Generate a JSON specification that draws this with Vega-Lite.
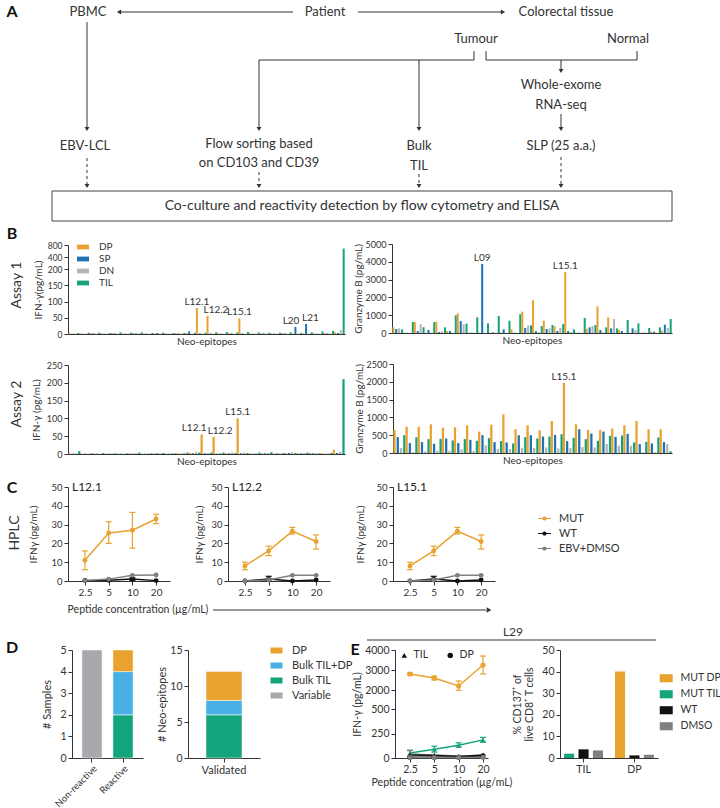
{
"$schema": "https://vega.github.io/schema/vega-lite/v6.json",
"padding": 0,
"background": "white",
"spacing": 0,
"config": {
 "font": "Lato",
 "view": {"stroke": null},
 "axis": {"grid": false, "labelOverlap": false, "labelFont": "Lato", "titleFont": "Lato", "labelFontSize": 9.5, "titleFontSize": 10, "titleFontWeight": "normal", "labelColor": "#333", "titleColor": "#333", "domainColor": "#333", "tickColor": "#333", "tickSize": 4, "labelPadding": 2, "titlePadding": 4},
 "axisQuantitative": {"tickCount": 50},
 "legend": {"labelFont": "Lato", "labelColor": "#333", "padding": 0, "labelFontSize": 10},
 "title": {"font": "Lato", "fontWeight": "normal", "color": "#333"},
 "text": {"font": "Lato", "color": "#333"}
},
"datasets": {
 "aText": [
  {"x":88,"y":12,"t":"PBMC"},{"x":325,"y":12,"t":"Patient"},{"x":566,"y":12,"t":"Colorectal tissue"},
  {"x":476,"y":39,"t":"Tumour"},{"x":628,"y":39,"t":"Normal"},
  {"x":561,"y":85,"t":"Whole-exome"},{"x":561,"y":105,"t":"RNA-seq"},
  {"x":85,"y":146,"t":"EBV-LCL"},{"x":259,"y":144,"t":"Flow sorting based"},{"x":259,"y":163,"t":"on CD103 and CD39"},
  {"x":419,"y":146,"t":"Bulk"},{"x":419,"y":166,"t":"TIL"},{"x":561,"y":146,"t":"SLP (25 a.a.)"}
 ],
 "aBoxText": [{"x":362,"y":206,"t":"Co-culture and reactivity detection by flow cytometry and ELISA"}],
 "aLetter": [{"x":12,"y":12,"t":"A"}],
 "aLines": [
  {"x":293,"y":12,"x2":121,"y2":12},{"x":358,"y":12,"x2":501,"y2":12},
  {"x":87,"y":22,"x2":87,"y2":127},
  {"x":474,"y":51,"x2":474,"y2":60},{"x":259,"y":60,"x2":474,"y2":60},
  {"x":259,"y":60,"x2":259,"y2":127},{"x":419,"y":60,"x2":419,"y2":127},
  {"x":486,"y":51,"x2":486,"y2":60},{"x":486,"y":60,"x2":637,"y2":60},{"x":637,"y":51,"x2":637,"y2":60},
  {"x":561,"y":60,"x2":561,"y2":69},{"x":561,"y":114,"x2":561,"y2":127}
 ],
 "aDash": [
  {"x":87,"y":158,"x2":87,"y2":184},{"x":259,"y":172,"x2":259,"y2":184},
  {"x":419,"y":174,"x2":419,"y2":184},{"x":561,"y":157,"x2":561,"y2":184}
 ],
 "aHeads": [
  {"x":87,"y":129,"dir":"down"},{"x":259,"y":129,"dir":"down"},{"x":419,"y":129,"dir":"down"},
  {"x":561,"y":71,"dir":"down"},{"x":561,"y":129,"dir":"down"},
  {"x":119,"y":12,"dir":"left"},{"x":503,"y":12,"dir":"right"},
  {"x":87,"y":186,"dir":"down"},{"x":259,"y":186,"dir":"down"},{"x":419,"y":186,"dir":"down"},{"x":561,"y":186,"dir":"down"}
 ],
 "aBox": [{"x":52,"x2":672,"y":191,"y2":221}],
 "lbl": [
  {"row":"B1","k":"letter","x":12,"y":12,"t":"B"},
  {"row":"B1","k":"rowlab","x":17,"y":63,"t":"Assay 1"},
  {"row":"B2","k":"rowlab","x":17,"y":54,"t":"Assay 2"},
  {"row":"C","k":"letter","x":12,"y":16,"t":"C"},
  {"row":"C","k":"rowlab","x":15,"y":61,"t":"HPLC"},
  {"row":"C","k":"note","x":138,"y":138,"t":"Peptide concentration (µg/mL)"},
  {"row":"DE","k":"letter","x":12,"y":28,"t":"D"},
  {"row":"DE","k":"letter","x":355,"y":30,"t":"E"},
  {"row":"DE","k":"head","x":513,"y":12,"t":"L29"}
 ],
 "lblRules": [
  {"row":"C","x":213,"y":138,"x2":486,"y2":138},
  {"row":"DE","x":367,"y":20,"x2":656,"y2":20}
 ],
 "lblHeads": [{"row":"C","x":489,"y":138}],
 "ifn1": [
  {"g":0,"c":"DP","v":3},{"g":0,"c":"SP","v":1},{"g":0,"c":"DN","v":1},{"g":0,"c":"TIL","v":3},
  {"g":1,"c":"DP","v":2},{"g":1,"c":"SP","v":1},{"g":1,"c":"DN","v":1},{"g":1,"c":"TIL","v":4},
  {"g":2,"c":"DP","v":3},{"g":2,"c":"SP","v":2},{"g":2,"c":"DN","v":1},{"g":2,"c":"TIL","v":4},
  {"g":3,"c":"DP","v":2},{"g":3,"c":"SP","v":1},{"g":3,"c":"DN","v":1},{"g":3,"c":"TIL","v":3},
  {"g":4,"c":"DP","v":3},{"g":4,"c":"SP","v":2},{"g":4,"c":"DN","v":1},{"g":4,"c":"TIL","v":5},
  {"g":5,"c":"DP","v":2},{"g":5,"c":"SP","v":1},{"g":5,"c":"DN","v":1},{"g":5,"c":"TIL","v":4},
  {"g":6,"c":"DP","v":3},{"g":6,"c":"SP","v":2},{"g":6,"c":"DN","v":2},{"g":6,"c":"TIL","v":5},
  {"g":7,"c":"DP","v":2},{"g":7,"c":"SP","v":1},{"g":7,"c":"DN","v":1},{"g":7,"c":"TIL","v":3},
  {"g":8,"c":"DP","v":2},{"g":8,"c":"SP","v":3},{"g":8,"c":"DN","v":1},{"g":8,"c":"TIL","v":4},
  {"g":9,"c":"DP","v":2},{"g":9,"c":"SP","v":1},{"g":9,"c":"DN","v":1},{"g":9,"c":"TIL","v":3},
  {"g":10,"c":"DP","v":3},{"g":10,"c":"SP","v":2},{"g":10,"c":"DN","v":1},{"g":10,"c":"TIL","v":3},
  {"g":11,"c":"DP","v":3},{"g":11,"c":"SP","v":8},{"g":11,"c":"DN","v":1},{"g":11,"c":"TIL","v":4},
  {"g":12,"c":"DP","v":80,"lab":"L12.1"},{"g":12,"c":"SP","v":2},{"g":12,"c":"DN","v":1},{"g":12,"c":"TIL","v":4},
  {"g":13,"c":"DP","v":56,"lab":"L12.2"},{"g":13,"c":"SP","v":2},{"g":13,"c":"DN","v":1},{"g":13,"c":"TIL","v":5},
  {"g":14,"c":"DP","v":2},{"g":14,"c":"SP","v":1},{"g":14,"c":"DN","v":1},{"g":14,"c":"TIL","v":6},
  {"g":15,"c":"DP","v":3},{"g":15,"c":"SP","v":2},{"g":15,"c":"DN","v":1},{"g":15,"c":"TIL","v":5},
  {"g":16,"c":"DP","v":48,"lab":"L15.1"},{"g":16,"c":"SP","v":2},{"g":16,"c":"DN","v":1},{"g":16,"c":"TIL","v":6},
  {"g":17,"c":"DP","v":2},{"g":17,"c":"SP","v":1},{"g":17,"c":"DN","v":1},{"g":17,"c":"TIL","v":5},
  {"g":18,"c":"DP","v":2},{"g":18,"c":"SP","v":2},{"g":18,"c":"DN","v":1},{"g":18,"c":"TIL","v":4},
  {"g":19,"c":"DP","v":2},{"g":19,"c":"SP","v":1},{"g":19,"c":"DN","v":1},{"g":19,"c":"TIL","v":4},
  {"g":20,"c":"DP","v":3},{"g":20,"c":"SP","v":2},{"g":20,"c":"DN","v":1},{"g":20,"c":"TIL","v":5},
  {"g":21,"c":"DP","v":2},{"g":21,"c":"SP","v":22,"lab":"L20"},{"g":21,"c":"DN","v":1},{"g":21,"c":"TIL","v":3},
  {"g":22,"c":"DP","v":2},{"g":22,"c":"SP","v":31,"lab":"L21"},{"g":22,"c":"DN","v":1},{"g":22,"c":"TIL","v":5},
  {"g":23,"c":"DP","v":2},{"g":23,"c":"SP","v":1},{"g":23,"c":"DN","v":1},{"g":23,"c":"TIL","v":8},
  {"g":24,"c":"DP","v":3},{"g":24,"c":"SP","v":2},{"g":24,"c":"DN","v":1},{"g":24,"c":"TIL","v":10},
  {"g":25,"c":"DP","v":5},{"g":25,"c":"SP","v":3},{"g":25,"c":"DN","v":12},{"g":25,"c":"TIL","v":680}
 ],
 "gzm1": [
  {"g":0,"c":"DP","v":318},{"g":0,"c":"SP","v":225},{"g":0,"c":"DN","v":262},{"g":0,"c":"TIL","v":206},
  {"g":1,"c":"DP","v":20},{"g":1,"c":"SP","v":10},{"g":1,"c":"DN","v":10},{"g":1,"c":"TIL","v":618},
  {"g":2,"c":"DP","v":618},{"g":2,"c":"SP","v":112},{"g":2,"c":"DN","v":487},{"g":2,"c":"TIL","v":318},
  {"g":3,"c":"DP","v":15},{"g":3,"c":"SP","v":168},{"g":3,"c":"DN","v":10},{"g":3,"c":"TIL","v":618},
  {"g":4,"c":"DP","v":637},{"g":4,"c":"SP","v":56},{"g":4,"c":"DN","v":94},{"g":4,"c":"TIL","v":318},
  {"g":5,"c":"DP","v":112},{"g":5,"c":"SP","v":112},{"g":5,"c":"DN","v":10},{"g":5,"c":"TIL","v":993},
  {"g":6,"c":"DP","v":1105},{"g":6,"c":"SP","v":674},{"g":6,"c":"DN","v":487},{"g":6,"c":"TIL","v":524},
  {"g":7,"c":"DP","v":20},{"g":7,"c":"SP","v":20},{"g":7,"c":"DN","v":20},{"g":7,"c":"TIL","v":880},
  {"g":8,"c":"DP","v":20},{"g":8,"c":"SP","v":3876,"lab":"L09"},{"g":8,"c":"DN","v":10},{"g":8,"c":"TIL","v":543},
  {"g":9,"c":"DP","v":10},{"g":9,"c":"SP","v":40},{"g":9,"c":"DN","v":10},{"g":9,"c":"TIL","v":955},
  {"g":10,"c":"DP","v":20},{"g":10,"c":"SP","v":206},{"g":10,"c":"DN","v":10},{"g":10,"c":"TIL","v":693},
  {"g":11,"c":"DP","v":206},{"g":11,"c":"SP","v":20},{"g":11,"c":"DN","v":10},{"g":11,"c":"TIL","v":1049},
  {"g":12,"c":"DP","v":1199},{"g":12,"c":"SP","v":281},{"g":12,"c":"DN","v":412},{"g":12,"c":"TIL","v":431},
  {"g":13,"c":"DP","v":1835},{"g":13,"c":"SP","v":100},{"g":13,"c":"DN","v":40},{"g":13,"c":"TIL","v":393},
  {"g":14,"c":"DP","v":693},{"g":14,"c":"SP","v":225},{"g":14,"c":"DN","v":262},{"g":14,"c":"TIL","v":449},
  {"g":15,"c":"DP","v":393},{"g":15,"c":"SP","v":112},{"g":15,"c":"DN","v":281},{"g":15,"c":"TIL","v":506},
  {"g":16,"c":"DP","v":3427,"lab":"L15.1"},{"g":16,"c":"SP","v":112},{"g":16,"c":"DN","v":60},{"g":16,"c":"TIL","v":206},
  {"g":17,"c":"DP","v":20},{"g":17,"c":"SP","v":20},{"g":17,"c":"DN","v":20},{"g":17,"c":"TIL","v":843},
  {"g":18,"c":"DP","v":243},{"g":18,"c":"SP","v":318},{"g":18,"c":"DN","v":393},{"g":18,"c":"TIL","v":449},
  {"g":19,"c":"DP","v":1498},{"g":19,"c":"SP","v":168},{"g":19,"c":"DN","v":40},{"g":19,"c":"TIL","v":318},
  {"g":20,"c":"DP","v":880},{"g":20,"c":"SP","v":262},{"g":20,"c":"DN","v":787},{"g":20,"c":"TIL","v":262},
  {"g":21,"c":"DP","v":168},{"g":21,"c":"SP","v":112},{"g":21,"c":"DN","v":20},{"g":21,"c":"TIL","v":730},
  {"g":22,"c":"DP","v":20},{"g":22,"c":"SP","v":262},{"g":22,"c":"DN","v":168},{"g":22,"c":"TIL","v":543},
  {"g":23,"c":"DP","v":20},{"g":23,"c":"SP","v":20},{"g":23,"c":"DN","v":20},{"g":23,"c":"TIL","v":281},
  {"g":24,"c":"DP","v":75},{"g":24,"c":"SP","v":75},{"g":24,"c":"DN","v":20},{"g":24,"c":"TIL","v":318},
  {"g":25,"c":"DP","v":131},{"g":25,"c":"SP","v":468},{"g":25,"c":"DN","v":281},{"g":25,"c":"TIL","v":787}
 ],
 "ifn2": [
  {"g":0,"c":"DP","v":2},{"g":0,"c":"SP","v":1},{"g":0,"c":"DN","v":2},{"g":0,"c":"TIL","v":8},
  {"g":1,"c":"DP","v":1},{"g":1,"c":"SP","v":1},{"g":1,"c":"DN","v":1},{"g":1,"c":"TIL","v":2},
  {"g":2,"c":"DP","v":2},{"g":2,"c":"SP","v":1},{"g":2,"c":"DN","v":1},{"g":2,"c":"TIL","v":3},
  {"g":3,"c":"DP","v":1},{"g":3,"c":"SP","v":1},{"g":3,"c":"DN","v":2},{"g":3,"c":"TIL","v":2},
  {"g":4,"c":"DP","v":1},{"g":4,"c":"SP","v":1},{"g":4,"c":"DN","v":1},{"g":4,"c":"TIL","v":2},
  {"g":5,"c":"DP","v":2},{"g":5,"c":"SP","v":1},{"g":5,"c":"DN","v":3},{"g":5,"c":"TIL","v":4},
  {"g":6,"c":"DP","v":1},{"g":6,"c":"SP","v":1},{"g":6,"c":"DN","v":2},{"g":6,"c":"TIL","v":2},
  {"g":7,"c":"DP","v":1},{"g":7,"c":"SP","v":2},{"g":7,"c":"DN","v":2},{"g":7,"c":"TIL","v":3},
  {"g":8,"c":"DP","v":1},{"g":8,"c":"SP","v":1},{"g":8,"c":"DN","v":3},{"g":8,"c":"TIL","v":2},
  {"g":9,"c":"DP","v":2},{"g":9,"c":"SP","v":1},{"g":9,"c":"DN","v":4},{"g":9,"c":"TIL","v":4},
  {"g":10,"c":"DP","v":3},{"g":10,"c":"SP","v":2},{"g":10,"c":"DN","v":5},{"g":10,"c":"TIL","v":4},
  {"g":11,"c":"DP","v":55,"lab":"L12.1"},{"g":11,"c":"SP","v":2},{"g":11,"c":"DN","v":3},{"g":11,"c":"TIL","v":4},
  {"g":12,"c":"DP","v":48,"lab":"L12.2"},{"g":12,"c":"SP","v":1},{"g":12,"c":"DN","v":3},{"g":12,"c":"TIL","v":4},
  {"g":13,"c":"DP","v":2},{"g":13,"c":"SP","v":2},{"g":13,"c":"DN","v":5},{"g":13,"c":"TIL","v":3},
  {"g":14,"c":"DP","v":100,"lab":"L15.1"},{"g":14,"c":"SP","v":2},{"g":14,"c":"DN","v":4},{"g":14,"c":"TIL","v":3},
  {"g":15,"c":"DP","v":2},{"g":15,"c":"SP","v":1},{"g":15,"c":"DN","v":3},{"g":15,"c":"TIL","v":4},
  {"g":16,"c":"DP","v":2},{"g":16,"c":"SP","v":2},{"g":16,"c":"DN","v":3},{"g":16,"c":"TIL","v":5},
  {"g":17,"c":"DP","v":1},{"g":17,"c":"SP","v":2},{"g":17,"c":"DN","v":2},{"g":17,"c":"TIL","v":3},
  {"g":18,"c":"DP","v":2},{"g":18,"c":"SP","v":3},{"g":18,"c":"DN","v":5},{"g":18,"c":"TIL","v":3},
  {"g":19,"c":"DP","v":2},{"g":19,"c":"SP","v":2},{"g":19,"c":"DN","v":3},{"g":19,"c":"TIL","v":4},
  {"g":20,"c":"DP","v":3},{"g":20,"c":"SP","v":2},{"g":20,"c":"DN","v":3},{"g":20,"c":"TIL","v":2},
  {"g":21,"c":"DP","v":2},{"g":21,"c":"SP","v":1},{"g":21,"c":"DN","v":2},{"g":21,"c":"TIL","v":3},
  {"g":22,"c":"DP","v":12},{"g":22,"c":"SP","v":3},{"g":22,"c":"DN","v":6},{"g":22,"c":"TIL","v":210}
 ],
 "gzm2": [
  {"g":0,"c":"DP","v":648},{"g":0,"c":"SP","v":444},{"g":0,"c":"DN","v":139},{"g":0,"c":"TIL","v":500},
  {"g":1,"c":"DP","v":741},{"g":1,"c":"SP","v":278},{"g":1,"c":"DN","v":20},{"g":1,"c":"TIL","v":444},
  {"g":2,"c":"DP","v":741},{"g":2,"c":"SP","v":305},{"g":2,"c":"DN","v":46},{"g":2,"c":"TIL","v":389},
  {"g":3,"c":"DP","v":806},{"g":3,"c":"SP","v":259},{"g":3,"c":"DN","v":65},{"g":3,"c":"TIL","v":398},
  {"g":4,"c":"DP","v":713},{"g":4,"c":"SP","v":407},{"g":4,"c":"DN","v":65},{"g":4,"c":"TIL","v":352},
  {"g":5,"c":"DP","v":722},{"g":5,"c":"SP","v":278},{"g":5,"c":"DN","v":102},{"g":5,"c":"TIL","v":389},
  {"g":6,"c":"DP","v":778},{"g":6,"c":"SP","v":370},{"g":6,"c":"DN","v":56},{"g":6,"c":"TIL","v":343},
  {"g":7,"c":"DP","v":602},{"g":7,"c":"SP","v":500},{"g":7,"c":"DN","v":213},{"g":7,"c":"TIL","v":417},
  {"g":8,"c":"DP","v":796},{"g":8,"c":"SP","v":305},{"g":8,"c":"DN","v":111},{"g":8,"c":"TIL","v":333},
  {"g":9,"c":"DP","v":1083},{"g":9,"c":"SP","v":296},{"g":9,"c":"DN","v":111},{"g":9,"c":"TIL","v":269},
  {"g":10,"c":"DP","v":667},{"g":10,"c":"SP","v":500},{"g":10,"c":"DN","v":148},{"g":10,"c":"TIL","v":444},
  {"g":11,"c":"DP","v":778},{"g":11,"c":"SP","v":500},{"g":11,"c":"DN","v":139},{"g":11,"c":"TIL","v":407},
  {"g":12,"c":"DP","v":639},{"g":12,"c":"SP","v":463},{"g":12,"c":"DN","v":157},{"g":12,"c":"TIL","v":463},
  {"g":13,"c":"DP","v":898},{"g":13,"c":"SP","v":509},{"g":13,"c":"DN","v":130},{"g":13,"c":"TIL","v":528},
  {"g":14,"c":"DP","v":1972,"lab":"L15.1"},{"g":14,"c":"SP","v":333},{"g":14,"c":"DN","v":139},{"g":14,"c":"TIL","v":426},
  {"g":15,"c":"DP","v":806},{"g":15,"c":"SP","v":667},{"g":15,"c":"DN","v":167},{"g":15,"c":"TIL","v":389},
  {"g":16,"c":"DP","v":648},{"g":16,"c":"SP","v":546},{"g":16,"c":"DN","v":157},{"g":16,"c":"TIL","v":343},
  {"g":17,"c":"DP","v":648},{"g":17,"c":"SP","v":602},{"g":17,"c":"DN","v":250},{"g":17,"c":"TIL","v":481},
  {"g":18,"c":"DP","v":685},{"g":18,"c":"SP","v":454},{"g":18,"c":"DN","v":204},{"g":18,"c":"TIL","v":491},
  {"g":19,"c":"DP","v":778},{"g":19,"c":"SP","v":537},{"g":19,"c":"DN","v":204},{"g":19,"c":"TIL","v":296},
  {"g":20,"c":"DP","v":898},{"g":20,"c":"SP","v":250},{"g":20,"c":"DN","v":20},{"g":20,"c":"TIL","v":315},
  {"g":21,"c":"DP","v":667},{"g":21,"c":"SP","v":269},{"g":21,"c":"DN","v":20},{"g":21,"c":"TIL","v":435},
  {"g":22,"c":"DP","v":667},{"g":22,"c":"SP","v":305},{"g":22,"c":"DN","v":250},{"g":22,"c":"TIL","v":46}
 ],
 "cdat": [
  {"pep":"L12.1","grp":"MUT","conc":"2.5","m":11,"lo":6,"hi":16},
  {"pep":"L12.1","grp":"MUT","conc":"5","m":25.5,"lo":20,"hi":31.5},
  {"pep":"L12.1","grp":"MUT","conc":"10","m":27,"lo":17.5,"hi":36.5},
  {"pep":"L12.1","grp":"MUT","conc":"20","m":33,"lo":30.5,"hi":35.5},
  {"pep":"L12.1","grp":"WT","conc":"2.5","m":0.3},
  {"pep":"L12.1","grp":"WT","conc":"5","m":0.4},
  {"pep":"L12.1","grp":"WT","conc":"10","m":1,"lo":0.3,"hi":1.7},
  {"pep":"L12.1","grp":"WT","conc":"20","m":0.2},
  {"pep":"L12.1","grp":"EBV+DMSO","conc":"2.5","m":0.2},
  {"pep":"L12.1","grp":"EBV+DMSO","conc":"5","m":1},
  {"pep":"L12.1","grp":"EBV+DMSO","conc":"10","m":3},
  {"pep":"L12.1","grp":"EBV+DMSO","conc":"20","m":3.2},
  {"pep":"L12.2","grp":"MUT","conc":"2.5","m":8,"lo":6,"hi":10},
  {"pep":"L12.2","grp":"MUT","conc":"5","m":16,"lo":13.5,"hi":18.5},
  {"pep":"L12.2","grp":"MUT","conc":"10","m":26.5,"lo":25,"hi":28.5},
  {"pep":"L12.2","grp":"MUT","conc":"20","m":21,"lo":17,"hi":24.5},
  {"pep":"L12.2","grp":"WT","conc":"2.5","m":0},
  {"pep":"L12.2","grp":"WT","conc":"5","m":1,"lo":0,"hi":2.5},
  {"pep":"L12.2","grp":"WT","conc":"10","m":0},
  {"pep":"L12.2","grp":"WT","conc":"20","m":0.5},
  {"pep":"L12.2","grp":"EBV+DMSO","conc":"2.5","m":0},
  {"pep":"L12.2","grp":"EBV+DMSO","conc":"5","m":0.5},
  {"pep":"L12.2","grp":"EBV+DMSO","conc":"10","m":3},
  {"pep":"L12.2","grp":"EBV+DMSO","conc":"20","m":3},
  {"pep":"L15.1","grp":"MUT","conc":"2.5","m":8,"lo":6,"hi":10},
  {"pep":"L15.1","grp":"MUT","conc":"5","m":16,"lo":13.5,"hi":18.5},
  {"pep":"L15.1","grp":"MUT","conc":"10","m":26.5,"lo":25,"hi":28.5},
  {"pep":"L15.1","grp":"MUT","conc":"20","m":21,"lo":17,"hi":24.5},
  {"pep":"L15.1","grp":"WT","conc":"2.5","m":0},
  {"pep":"L15.1","grp":"WT","conc":"5","m":1,"lo":0,"hi":2.5},
  {"pep":"L15.1","grp":"WT","conc":"10","m":0},
  {"pep":"L15.1","grp":"WT","conc":"20","m":0.5},
  {"pep":"L15.1","grp":"EBV+DMSO","conc":"2.5","m":0},
  {"pep":"L15.1","grp":"EBV+DMSO","conc":"5","m":0.5},
  {"pep":"L15.1","grp":"EBV+DMSO","conc":"10","m":3},
  {"pep":"L15.1","grp":"EBV+DMSO","conc":"20","m":3}
 ],
 "d1": [
  {"cat":"Non-reactive","type":"Variable","n":5},
  {"cat":"Reactive","type":"Bulk TIL","n":2},
  {"cat":"Reactive","type":"Bulk TIL+DP","n":2},
  {"cat":"Reactive","type":"DP","n":1}
 ],
 "d2": [
  {"cat":"Validated","type":"Bulk TIL","n":6},
  {"cat":"Validated","type":"Bulk TIL+DP","n":2},
  {"cat":"Validated","type":"DP","n":4}
 ],
 "e1": [
  {"s":"DP MUT","cell":"DP","cond":"MUT DP","conc":"2.5","m":2800,"lo":2740,"hi":2860},
  {"s":"DP MUT","cell":"DP","cond":"MUT DP","conc":"5","m":2600,"lo":2500,"hi":2700},
  {"s":"DP MUT","cell":"DP","cond":"MUT DP","conc":"10","m":2200,"lo":1980,"hi":2450},
  {"s":"DP MUT","cell":"DP","cond":"MUT DP","conc":"20","m":3250,"lo":2800,"hi":3700},
  {"s":"TIL MUT","cell":"TIL","cond":"MUT TIL","conc":"2.5","m":50,"lo":20,"hi":80},
  {"s":"TIL MUT","cell":"TIL","cond":"MUT TIL","conc":"5","m":90,"lo":60,"hi":120},
  {"s":"TIL MUT","cell":"TIL","cond":"MUT TIL","conc":"10","m":130,"lo":110,"hi":155},
  {"s":"TIL MUT","cell":"TIL","cond":"MUT TIL","conc":"20","m":185,"lo":160,"hi":210},
  {"s":"TIL DMSO","cell":"TIL","cond":"DMSO","conc":"2.5","m":40,"lo":10,"hi":75},
  {"s":"TIL DMSO","cell":"TIL","cond":"DMSO","conc":"5","m":30},
  {"s":"TIL DMSO","cell":"TIL","cond":"DMSO","conc":"10","m":20},
  {"s":"TIL DMSO","cell":"TIL","cond":"DMSO","conc":"20","m":18},
  {"s":"TIL WT","cell":"TIL","cond":"WT","conc":"2.5","m":30},
  {"s":"TIL WT","cell":"TIL","cond":"WT","conc":"5","m":25},
  {"s":"TIL WT","cell":"TIL","cond":"WT","conc":"10","m":15},
  {"s":"TIL WT","cell":"TIL","cond":"WT","conc":"20","m":30},
  {"s":"DP WT","cell":"DP","cond":"WT","conc":"2.5","m":8},
  {"s":"DP WT","cell":"DP","cond":"WT","conc":"5","m":8},
  {"s":"DP WT","cell":"DP","cond":"WT","conc":"10","m":8},
  {"s":"DP WT","cell":"DP","cond":"WT","conc":"20","m":22},
  {"s":"DP DMSO","cell":"DP","cond":"DMSO","conc":"2.5","m":5},
  {"s":"DP DMSO","cell":"DP","cond":"DMSO","conc":"5","m":5},
  {"s":"DP DMSO","cell":"DP","cond":"DMSO","conc":"10","m":5},
  {"s":"DP DMSO","cell":"DP","cond":"DMSO","conc":"20","m":8}
 ],
 "e2": [
  {"grp":"TIL","slot":"a","cond":"MUT TIL","v":2},
  {"grp":"TIL","slot":"b","cond":"WT","v":4},
  {"grp":"TIL","slot":"c","cond":"DMSO","v":3.5},
  {"grp":"DP","slot":"a","cond":"MUT DP","v":40},
  {"grp":"DP","slot":"b","cond":"WT","v":1.2},
  {"grp":"DP","slot":"c","cond":"DMSO","v":1.5}
 ]
},
"vconcat": [
 {
  "width": 720, "height": 222,
  "layer": [
   {"data": {"name": "aLines"}, "mark": {"type": "rule", "color": "#333", "strokeWidth": 1},
    "encoding": {"x": {"field": "x", "type": "quantitative", "scale": {"domain": [0,720], "nice": false}, "axis": null},
     "y": {"field": "y", "type": "quantitative", "scale": {"domain": [0,222], "nice": false, "reverse": true}, "axis": null},
     "x2": {"field": "x2"}, "y2": {"field": "y2"}}},
   {"data": {"name": "aDash"}, "mark": {"type": "rule", "color": "#333", "strokeWidth": 1, "strokeDash": [3,3]},
    "encoding": {"x": {"field": "x", "type": "quantitative"}, "y": {"field": "y", "type": "quantitative"}, "x2": {"field": "x2"}, "y2": {"field": "y2"}}},
   {"data": {"name": "aHeads"}, "mark": {"type": "point", "filled": true, "size": 24, "color": "#333", "opacity": 1},
    "encoding": {"x": {"field": "x", "type": "quantitative"}, "y": {"field": "y", "type": "quantitative"},
     "shape": {"field": "dir", "type": "nominal", "scale": {"domain": ["down","left","right"], "range": ["triangle-down","triangle-left","triangle-right"]}, "legend": null}}},
   {"data": {"name": "aBox"}, "mark": {"type": "rect", "fill": "transparent", "stroke": "#444", "strokeWidth": 1},
    "encoding": {"x": {"field": "x", "type": "quantitative"}, "x2": {"field": "x2"}, "y": {"field": "y", "type": "quantitative"}, "y2": {"field": "y2"}}},
   {"data": {"name": "aText"}, "mark": {"type": "text", "fontSize": 13, "baseline": "middle", "align": "center", "color": "#333"},
    "encoding": {"x": {"field": "x", "type": "quantitative"}, "y": {"field": "y", "type": "quantitative"}, "text": {"field": "t"}}},
   {"data": {"name": "aBoxText"}, "mark": {"type": "text", "fontSize": 14, "baseline": "middle", "align": "center", "color": "#333"},
    "encoding": {"x": {"field": "x", "type": "quantitative"}, "y": {"field": "y", "type": "quantitative"}, "text": {"field": "t"}}},
   {"data": {"name": "aLetter"}, "mark": {"type": "text", "fontSize": 16, "fontWeight": "bold", "baseline": "middle", "align": "center", "color": "#111"},
    "encoding": {"x": {"field": "x", "type": "quantitative"}, "y": {"field": "y", "type": "quantitative"}, "text": {"field": "t"}}}
  ]
 },
 {
  "hconcat": [
   {
    "width": 68, "height": 128,
    "layer": [
     {"data": {"name": "lbl"}, "transform": [{"filter": "datum.row === 'B1' && datum.k === 'letter'"}],
      "mark": {"type": "text", "fontSize": 16, "fontWeight": "bold", "baseline": "middle", "align": "center", "color": "#111"},
      "encoding": {"x": {"field": "x", "type": "quantitative", "scale": {"domain": [0,68], "nice": false}, "axis": null},
       "y": {"field": "y", "type": "quantitative", "scale": {"domain": [0,128], "nice": false, "reverse": true}, "axis": null}, "text": {"field": "t"}}},
     {"data": {"name": "lbl"}, "transform": [{"filter": "datum.row === 'B1' && datum.k === 'rowlab'"}],
      "mark": {"type": "text", "fontSize": 14, "angle": 270, "baseline": "middle", "align": "center", "color": "#333"},
      "encoding": {"x": {"field": "x", "type": "quantitative"}, "y": {"field": "y", "type": "quantitative"}, "text": {"field": "t"}}}
    ]
   },
   {
    "width": 324, "height": 112,
    "data": {"name": "ifn1"},
    "encoding": {
     "x": {"field": "g", "type": "ordinal", "scale": {"range": [0,277], "paddingInner": 0, "paddingOuter": 0.03}, "axis": {"title": "Neo-epitopes", "labels": false, "ticks": false, "titlePadding": 2}},
     "xOffset": {"field": "c", "type": "nominal", "scale": {"domain": ["DP","SP","DN","TIL"], "paddingInner": 0.3}},
     "y": {"field": "v", "type": "quantitative", "scale": {"domain": [0,200,400,800], "range": [112,47,35,23], "nice": false, "zero": false}, "axis": {"values": [0,50,100,150,200,400,800], "format": "d", "title": "IFN-γ(pg/mL)", "titlePadding": 4, "labelFontSize": 8.5}}
    },
    "layer": [
     {"mark": {"type": "bar"}, "encoding": {"color": {"field": "c", "type": "nominal", "scale": {"domain": ["DP","SP","DN","TIL"], "range": ["#E9A22F","#1E73B5","#B5B5B8","#15A37B"]},
       "legend": {"orient": "none", "legendX": 10, "legendY": 20, "title": null, "symbolType": "M-2,-0.8H2V0.8H-2Z", "symbolSize": 36, "labelFontSize": 10, "labelOffset": 11, "rowPadding": 2, "symbolStrokeWidth": 0}}}},
     {"transform": [{"filter": "datum.lab === 'L12.1' || datum.lab === 'L15.1'"}], "mark": {"type": "text", "baseline": "bottom", "dy": -1, "fontSize": 10, "color": "#333"}, "encoding": {"text": {"field": "lab"}}},
     {"transform": [{"filter": "datum.lab === 'L12.2' || datum.lab === 'L21'"}], "mark": {"type": "text", "baseline": "bottom", "align": "left", "dx": -4, "dy": -1, "fontSize": 10, "color": "#333"}, "encoding": {"text": {"field": "lab"}}},
     {"transform": [{"filter": "datum.lab === 'L20'"}], "mark": {"type": "text", "baseline": "bottom", "align": "right", "dx": 4, "dy": -1, "fontSize": 10, "color": "#333"}, "encoding": {"text": {"field": "lab"}}}
    ]
   },
   {
    "width": 328, "height": 111,
    "data": {"name": "gzm1"},
    "encoding": {
     "x": {"field": "g", "type": "ordinal", "scale": {"range": [0,280], "paddingInner": 0, "paddingOuter": 0.03}, "axis": {"title": "Neo-epitopes", "labels": false, "ticks": false, "titlePadding": 2}},
     "xOffset": {"field": "c", "type": "nominal", "scale": {"domain": ["DP","SP","DN","TIL"], "paddingInner": 0.3}},
     "y": {"field": "v", "type": "quantitative", "scale": {"domain": [0,5000], "range": [111,22], "nice": false}, "axis": {"values": [0,1000,2000,3000,4000,5000], "format": "d", "title": "Granzyme B (pg/mL)", "titlePadding": 2, "labelFontSize": 9}}
    },
    "layer": [
     {"mark": {"type": "bar"}, "encoding": {"color": {"field": "c", "type": "nominal", "scale": {"domain": ["DP","SP","DN","TIL"], "range": ["#E9A22F","#1E73B5","#B5B5B8","#15A37B"]}, "legend": null}}},
     {"transform": [{"filter": "datum.lab"}], "mark": {"type": "text", "baseline": "bottom", "dy": -1, "fontSize": 10, "color": "#333"}, "encoding": {"text": {"field": "lab"}}}
    ]
   }
  ],
  "spacing": 0, "bounds": "flush",
  "resolve": {"scale": {"color": "independent", "xOffset": "independent"}}
 },
 {
  "hconcat": [
   {
    "width": 68, "height": 122,
    "layer": [
     {"data": {"name": "lbl"}, "transform": [{"filter": "datum.row === 'B2' && datum.k === 'rowlab'"}],
      "mark": {"type": "text", "fontSize": 14, "angle": 270, "baseline": "middle", "align": "center", "color": "#333"},
      "encoding": {"x": {"field": "x", "type": "quantitative", "scale": {"domain": [0,68], "nice": false}, "axis": null},
       "y": {"field": "y", "type": "quantitative", "scale": {"domain": [0,122], "nice": false, "reverse": true}, "axis": null}, "text": {"field": "t"}}}
    ]
   },
   {
    "width": 325, "height": 104,
    "data": {"name": "ifn2"},
    "encoding": {
     "x": {"field": "g", "type": "ordinal", "scale": {"range": [0,277], "paddingInner": 0, "paddingOuter": 0.03}, "axis": {"title": "Neo-epitopes", "labels": false, "ticks": false, "titlePadding": 2}},
     "xOffset": {"field": "c", "type": "nominal", "scale": {"domain": ["DP","SP","DN","TIL"], "paddingInner": 0.3}},
     "y": {"field": "v", "type": "quantitative", "scale": {"domain": [0,250], "range": [104,15], "nice": false}, "axis": {"values": [0,50,100,150,200,250], "format": "d", "title": "IFN-γ (pg/mL)", "titlePadding": 5, "labelFontSize": 9}}
    },
    "layer": [
     {"mark": {"type": "bar"}, "encoding": {"color": {"field": "c", "type": "nominal", "scale": {"domain": ["DP","SP","DN","TIL"], "range": ["#E9A22F","#1E73B5","#B5B5B8","#15A37B"]}, "legend": null}}},
     {"transform": [{"filter": "datum.lab === 'L15.1'"}], "mark": {"type": "text", "baseline": "bottom", "dy": -1, "fontSize": 10, "color": "#333"}, "encoding": {"text": {"field": "lab"}}},
     {"transform": [{"filter": "datum.lab === 'L12.1'"}], "mark": {"type": "text", "baseline": "bottom", "align": "right", "dx": 5, "dy": -1, "fontSize": 10, "color": "#333"}, "encoding": {"text": {"field": "lab"}}},
     {"transform": [{"filter": "datum.lab === 'L12.2'"}], "mark": {"type": "text", "baseline": "bottom", "align": "left", "dx": -6, "dy": -1, "fontSize": 10, "color": "#333"}, "encoding": {"text": {"field": "lab"}}}
    ]
   },
   {
    "width": 327, "height": 103,
    "data": {"name": "gzm2"},
    "encoding": {
     "x": {"field": "g", "type": "ordinal", "scale": {"range": [0,279], "paddingInner": 0, "paddingOuter": 0.03}, "axis": {"title": "Neo-epitopes", "labels": false, "ticks": false, "titlePadding": 2}},
     "xOffset": {"field": "c", "type": "nominal", "scale": {"domain": ["DP","SP","DN","TIL"], "paddingInner": 0.3}},
     "y": {"field": "v", "type": "quantitative", "scale": {"domain": [0,2500], "range": [103,14], "nice": false}, "axis": {"values": [0,500,1000,1500,2000,2500], "format": "d", "title": "Granzyme B (pg/mL)", "titlePadding": 2, "labelFontSize": 9}}
    },
    "layer": [
     {"mark": {"type": "bar"}, "encoding": {"color": {"field": "c", "type": "nominal", "scale": {"domain": ["DP","SP","DN","TIL"], "range": ["#E9A22F","#1E73B5","#B5B5B8","#15A37B"]}, "legend": null}}},
     {"transform": [{"filter": "datum.lab"}], "mark": {"type": "text", "baseline": "bottom", "dy": -1, "fontSize": 10, "color": "#333"}, "encoding": {"text": {"field": "lab"}}}
    ]
   }
  ],
  "spacing": 0, "bounds": "flush",
  "resolve": {"scale": {"color": "independent", "xOffset": "independent"}}
 },
 {
  "hconcat": [
   {
    "width": 68, "height": 148,
    "layer": [
     {"data": {"name": "lbl"}, "transform": [{"filter": "datum.row === 'C' && datum.k === 'letter'"}],
      "mark": {"type": "text", "fontSize": 16, "fontWeight": "bold", "baseline": "middle", "align": "center", "color": "#111"},
      "encoding": {"x": {"field": "x", "type": "quantitative", "scale": {"domain": [0,68], "nice": false}, "axis": null},
       "y": {"field": "y", "type": "quantitative", "scale": {"domain": [0,148], "nice": false, "reverse": true}, "axis": null}, "text": {"field": "t"}}},
     {"data": {"name": "lbl"}, "transform": [{"filter": "datum.row === 'C' && datum.k === 'rowlab'"}],
      "mark": {"type": "text", "fontSize": 14, "angle": 270, "baseline": "middle", "align": "center", "color": "#333"},
      "encoding": {"x": {"field": "x", "type": "quantitative"}, "y": {"field": "y", "type": "quantitative"}, "text": {"field": "t"}}},
     {"data": {"name": "lbl"}, "transform": [{"filter": "datum.row === 'C' && datum.k === 'note'"}],
      "mark": {"type": "text", "fontSize": 10.5, "baseline": "middle", "align": "center", "color": "#333"},
      "encoding": {"x": {"field": "x", "type": "quantitative"}, "y": {"field": "y", "type": "quantitative"}, "text": {"field": "t"}}},
     {"data": {"name": "lblRules"}, "transform": [{"filter": "datum.row === 'C'"}],
      "mark": {"type": "rule", "color": "#333", "strokeWidth": 1},
      "encoding": {"x": {"field": "x", "type": "quantitative"}, "y": {"field": "y", "type": "quantitative"}, "x2": {"field": "x2"}, "y2": {"field": "y2"}}},
     {"data": {"name": "lblHeads"}, "transform": [{"filter": "datum.row === 'C'"}],
      "mark": {"type": "point", "shape": "triangle-right", "filled": true, "size": 30, "color": "#333", "opacity": 1},
      "encoding": {"x": {"field": "x", "type": "quantitative"}, "y": {"field": "y", "type": "quantitative"}}}
    ]
   },
   {
    "width": 160, "height": 109,
    "title": {"text": "L12.1", "anchor": "start", "frame": "group", "offset": 0, "dx": 4, "dy": 27, "fontSize": 12, "baseline": "middle", "color": "#222"},
    "data": {"name": "cdat"},
    "transform": [{"filter": "datum.pep === 'L12.1'"}],
    "encoding": {"x": {"field": "conc", "type": "ordinal", "sort": ["2.5","5","10","20"], "scale": {"type": "point", "range": [0,102], "padding": 0.65, "align": 0.55}, "axis": {"title": null, "labelAngle": 0, "labelFontSize": 10}}},
    "layer": [
     {"mark": {"type": "line", "strokeWidth": 1.5},
      "encoding": {"y": {"field": "m", "type": "quantitative", "scale": {"domain": [0,50], "range": [109,15], "nice": false}, "axis": {"values": [0,10,20,30,40,50], "format": "d", "title": "IFNγ (pg/mL)", "titlePadding": 12}},
       "stroke": {"field": "grp", "type": "nominal", "scale": {"domain": ["MUT","WT","EBV+DMSO"], "range": ["#E9A22F","#111111","#808080"]}, "legend": null}}},
     {"transform": [{"filter": "isValid(datum.lo)"}], "mark": {"type": "rule", "strokeWidth": 1.2},
      "encoding": {"y": {"field": "lo", "type": "quantitative"}, "y2": {"field": "hi"}, "stroke": {"field": "grp", "type": "nominal", "legend": null}}},
     {"transform": [{"filter": "isValid(datum.lo)"}], "mark": {"type": "point", "shape": "stroke", "filled": false, "size": 36, "strokeWidth": 1.2, "opacity": 1},
      "encoding": {"y": {"field": "lo", "type": "quantitative"}, "stroke": {"field": "grp", "type": "nominal", "legend": null}}},
     {"transform": [{"filter": "isValid(datum.hi)"}], "mark": {"type": "point", "shape": "stroke", "filled": false, "size": 36, "strokeWidth": 1.2, "opacity": 1},
      "encoding": {"y": {"field": "hi", "type": "quantitative"}, "stroke": {"field": "grp", "type": "nominal", "legend": null}}},
     {"mark": {"type": "point", "filled": true, "size": 24, "opacity": 1},
      "encoding": {"y": {"field": "m", "type": "quantitative"}, "color": {"field": "grp", "type": "nominal", "scale": {"domain": ["MUT","WT","EBV+DMSO"], "range": ["#E9A22F","#111111","#808080"]}, "legend": null}}}
    ]
   },
   {
    "width": 165, "height": 109,
    "title": {"text": "L12.2", "anchor": "start", "frame": "group", "offset": 0, "dx": 4, "dy": 27, "fontSize": 12, "baseline": "middle", "color": "#222"},
    "data": {"name": "cdat"},
    "transform": [{"filter": "datum.pep === 'L12.2'"}],
    "encoding": {"x": {"field": "conc", "type": "ordinal", "sort": ["2.5","5","10","20"], "scale": {"type": "point", "range": [0,102], "padding": 0.65, "align": 0.55}, "axis": {"title": null, "labelAngle": 0, "labelFontSize": 10}}},
    "layer": [
     {"mark": {"type": "line", "strokeWidth": 1.5},
      "encoding": {"y": {"field": "m", "type": "quantitative", "scale": {"domain": [0,50], "range": [109,15], "nice": false}, "axis": {"values": [0,10,20,30,40,50], "format": "d", "title": "IFNγ (pg/mL)", "titlePadding": 6}},
       "stroke": {"field": "grp", "type": "nominal", "scale": {"domain": ["MUT","WT","EBV+DMSO"], "range": ["#E9A22F","#111111","#808080"]}, "legend": null}}},
     {"transform": [{"filter": "isValid(datum.lo)"}], "mark": {"type": "rule", "strokeWidth": 1.2},
      "encoding": {"y": {"field": "lo", "type": "quantitative"}, "y2": {"field": "hi"}, "stroke": {"field": "grp", "type": "nominal", "legend": null}}},
     {"transform": [{"filter": "isValid(datum.lo)"}], "mark": {"type": "point", "shape": "stroke", "filled": false, "size": 36, "strokeWidth": 1.2, "opacity": 1},
      "encoding": {"y": {"field": "lo", "type": "quantitative"}, "stroke": {"field": "grp", "type": "nominal", "legend": null}}},
     {"transform": [{"filter": "isValid(datum.hi)"}], "mark": {"type": "point", "shape": "stroke", "filled": false, "size": 36, "strokeWidth": 1.2, "opacity": 1},
      "encoding": {"y": {"field": "hi", "type": "quantitative"}, "stroke": {"field": "grp", "type": "nominal", "legend": null}}},
     {"mark": {"type": "point", "filled": true, "size": 24, "opacity": 1},
      "encoding": {"y": {"field": "m", "type": "quantitative"}, "color": {"field": "grp", "type": "nominal", "scale": {"domain": ["MUT","WT","EBV+DMSO"], "range": ["#E9A22F","#111111","#808080"]}, "legend": null}}}
    ]
   },
   {
    "width": 327, "height": 109,
    "title": {"text": "L15.1", "anchor": "start", "frame": "group", "offset": 0, "dx": 4, "dy": 27, "fontSize": 12, "baseline": "middle", "color": "#222"},
    "data": {"name": "cdat"},
    "transform": [{"filter": "datum.pep === 'L15.1'"}],
    "encoding": {"x": {"field": "conc", "type": "ordinal", "sort": ["2.5","5","10","20"], "scale": {"type": "point", "range": [0,102], "padding": 0.65, "align": 0.55}, "axis": {"title": null, "labelAngle": 0, "labelFontSize": 10}}},
    "layer": [
     {"mark": {"type": "line", "strokeWidth": 1.5},
      "encoding": {"y": {"field": "m", "type": "quantitative", "scale": {"domain": [0,50], "range": [109,15], "nice": false}, "axis": {"values": [0,10,20,30,40,50], "format": "d", "title": "IFNγ (pg/mL)", "titlePadding": 10}},
       "stroke": {"field": "grp", "type": "nominal", "scale": {"domain": ["MUT","WT","EBV+DMSO"], "range": ["#E9A22F","#111111","#808080"]}, "legend": null}}},
     {"transform": [{"filter": "isValid(datum.lo)"}], "mark": {"type": "rule", "strokeWidth": 1.2},
      "encoding": {"y": {"field": "lo", "type": "quantitative"}, "y2": {"field": "hi"}, "stroke": {"field": "grp", "type": "nominal", "legend": null}}},
     {"transform": [{"filter": "isValid(datum.lo)"}], "mark": {"type": "point", "shape": "stroke", "filled": false, "size": 36, "strokeWidth": 1.2, "opacity": 1},
      "encoding": {"y": {"field": "lo", "type": "quantitative"}, "stroke": {"field": "grp", "type": "nominal", "legend": null}}},
     {"transform": [{"filter": "isValid(datum.hi)"}], "mark": {"type": "point", "shape": "stroke", "filled": false, "size": 36, "strokeWidth": 1.2, "opacity": 1},
      "encoding": {"y": {"field": "hi", "type": "quantitative"}, "stroke": {"field": "grp", "type": "nominal", "legend": null}}},
     {"mark": {"type": "point", "filled": true, "size": 24, "opacity": 1},
      "encoding": {"y": {"field": "m", "type": "quantitative"}, "color": {"field": "grp", "type": "nominal", "scale": {"domain": ["MUT","WT","EBV+DMSO"], "range": ["#E9A22F","#111111","#808080"]},
       "legend": {"orient": "none", "legendX": 146, "legendY": 41, "title": null, "symbolType": "M-2,-0.13H2V0.13H-2Z M-0.65,0A0.65,0.65 0 1,1 0.65,0A0.65,0.65 0 1,1 -0.65,0Z", "symbolSize": 42, "labelFontSize": 11, "labelOffset": 9, "rowPadding": 3, "symbolStrokeWidth": 0}}}}
    ]
   }
  ],
  "spacing": 0, "bounds": "flush",
  "resolve": {"scale": {"color": "independent"}}
 },
 {
  "hconcat": [
   {
    "width": 72, "height": 188,
    "layer": [
     {"data": {"name": "lbl"}, "transform": [{"filter": "datum.row === 'DE' && datum.k === 'letter'"}],
      "mark": {"type": "text", "fontSize": 16, "fontWeight": "bold", "baseline": "middle", "align": "center", "color": "#111"},
      "encoding": {"x": {"field": "x", "type": "quantitative", "scale": {"domain": [0,72], "nice": false}, "axis": null},
       "y": {"field": "y", "type": "quantitative", "scale": {"domain": [0,188], "nice": false, "reverse": true}, "axis": null}, "text": {"field": "t"}}},
     {"data": {"name": "lbl"}, "transform": [{"filter": "datum.row === 'DE' && datum.k === 'head'"}],
      "mark": {"type": "text", "fontSize": 12, "baseline": "middle", "align": "center", "color": "#333"},
      "encoding": {"x": {"field": "x", "type": "quantitative"}, "y": {"field": "y", "type": "quantitative"}, "text": {"field": "t"}}},
     {"data": {"name": "lblRules"}, "transform": [{"filter": "datum.row === 'DE'"}],
      "mark": {"type": "rule", "color": "#333", "strokeWidth": 1},
      "encoding": {"x": {"field": "x", "type": "quantitative"}, "y": {"field": "y", "type": "quantitative"}, "x2": {"field": "x2"}, "y2": {"field": "y2"}}}
    ]
   },
   {
    "width": 116, "height": 138,
    "data": {"name": "d1"},
    "mark": {"type": "bar", "stroke": "white", "strokeWidth": 0.5},
    "encoding": {
     "x": {"field": "cat", "type": "nominal", "sort": ["Non-reactive","Reactive"], "scale": {"range": [0,71], "paddingInner": 0.35, "paddingOuter": 0.32}, "axis": {"title": null, "labelAngle": -45, "labelFontSize": 9.5, "labelPadding": 1}},
     "y": {"field": "n", "type": "quantitative", "scale": {"domain": [0,5], "range": [138,30], "nice": false}, "axis": {"values": [0,1,2,3,4,5], "format": "d", "title": "# Samples", "titlePadding": 7, "labelFontSize": 10.5, "titleFontSize": 11}},
     "color": {"field": "type", "type": "nominal", "scale": {"domain": ["DP","Bulk TIL+DP","Bulk TIL","Variable"], "range": ["#E9A22F","#48B0E4","#13A57B","#A7A9AC"]}, "legend": null},
     "order": {"field": "type", "sort": "ascending"}
    }
   },
   {
    "width": 207, "height": 138,
    "data": {"name": "d2"},
    "mark": {"type": "bar", "stroke": "white", "strokeWidth": 0.5},
    "encoding": {
     "x": {"field": "cat", "type": "nominal", "scale": {"range": [0,72], "paddingInner": 0, "paddingOuter": 0.5}, "axis": {"title": null, "labelAngle": 0, "labelFontSize": 11}},
     "y": {"field": "n", "type": "quantitative", "scale": {"domain": [0,15], "range": [138,30], "nice": false}, "axis": {"values": [0,5,10,15], "format": "d", "title": "# Neo-epitopes", "titlePadding": 2, "labelFontSize": 10.5, "titleFontSize": 11}},
     "color": {"field": "type", "type": "nominal", "scale": {"domain": ["DP","Bulk TIL+DP","Bulk TIL","Variable"], "range": ["#E9A22F","#48B0E4","#13A57B","#A7A9AC"]},
      "legend": {"orient": "none", "legendX": 83, "legendY": 25, "title": null, "symbolType": "M-2,-1H2V1H-2Z", "symbolSize": 36, "labelFontSize": 11, "labelOffset": 10, "rowPadding": 3, "symbolStrokeWidth": 0}},
     "order": {"field": "type", "sort": "ascending"}
    }
   },
   {
    "width": 165, "height": 138,
    "data": {"name": "e1"},
    "encoding": {"x": {"field": "conc", "type": "ordinal", "sort": ["2.5","5","10","20"], "scale": {"type": "point", "range": [0,93], "padding": 0.41, "align": 0.75}, "axis": {"title": "Peptide concentration (µg/mL)", "labelAngle": 0, "labelFontSize": 10.5, "titleFontSize": 10.5, "titlePadding": 3}}},
    "layer": [
     {"mark": {"type": "line", "strokeWidth": 1.5},
      "encoding": {"y": {"field": "m", "type": "quantitative", "scale": {"domain": [0,500,2000,4000], "range": [138,89,70,30], "nice": false, "zero": false}, "axis": {"values": [0,250,500,2000,3000,4000], "format": "d", "title": "IFN-γ (pg/mL)", "titlePadding": 2, "labelFontSize": 10.5, "titleFontSize": 10.5}},
       "color": {"field": "cond", "type": "nominal", "scale": {"domain": ["MUT DP","MUT TIL","WT","DMSO"], "range": ["#E9A22F","#16A47D","#111111","#808080"]}, "legend": null},
       "detail": {"field": "s"}}},
     {"transform": [{"filter": "isValid(datum.lo)"}], "mark": {"type": "rule", "strokeWidth": 1.2},
      "encoding": {"y": {"field": "lo", "type": "quantitative"}, "y2": {"field": "hi"}, "color": {"field": "cond", "type": "nominal", "legend": null}}},
     {"transform": [{"filter": "isValid(datum.lo)"}], "mark": {"type": "point", "shape": "stroke", "filled": false, "size": 36, "strokeWidth": 1.2, "opacity": 1},
      "encoding": {"y": {"field": "lo", "type": "quantitative"}, "color": {"field": "cond", "type": "nominal", "legend": null}}},
     {"transform": [{"filter": "isValid(datum.hi)"}], "mark": {"type": "point", "shape": "stroke", "filled": false, "size": 36, "strokeWidth": 1.2, "opacity": 1},
      "encoding": {"y": {"field": "hi", "type": "quantitative"}, "color": {"field": "cond", "type": "nominal", "legend": null}}},
     {"mark": {"type": "point", "filled": true, "size": 26, "opacity": 1},
      "encoding": {"y": {"field": "m", "type": "quantitative"}, "color": {"field": "cond", "type": "nominal", "legend": null},
       "shape": {"field": "cell", "type": "nominal", "scale": {"domain": ["TIL","DP"], "range": ["triangle-up","circle"]},
        "legend": {"orient": "none", "direction": "horizontal", "legendX": 4, "legendY": 30, "title": null, "symbolSize": 30, "symbolFillColor": "#111", "symbolStrokeColor": "#111", "symbolStrokeWidth": 0, "labelFontSize": 10.5, "labelOffset": 4, "columnPadding": 16}}}}
    ]
   },
   {
    "width": 160, "height": 138,
    "data": {"name": "e2"},
    "mark": {"type": "bar"},
    "encoding": {
     "x": {"field": "grp", "type": "nominal", "sort": ["TIL","DP"], "scale": {"range": [0,98], "paddingInner": 0.235, "paddingOuter": 0.08}, "axis": {"title": null, "labelAngle": 0, "labelFontSize": 10.5}},
     "xOffset": {"field": "slot", "type": "nominal", "scale": {"domain": ["a","b","c"], "paddingInner": 0.3}},
     "y": {"field": "v", "type": "quantitative", "stack": null, "scale": {"domain": [0,50], "range": [138,30], "nice": false}, "axis": {"values": [0,10,20,30,40,50], "format": "d", "title": ["% CD137⁺ of", "live CD8⁺ T cells"], "titlePadding": 7, "labelFontSize": 10.5, "titleFontSize": 10.5}},
     "color": {"field": "cond", "type": "nominal", "scale": {"domain": ["MUT DP","MUT TIL","WT","DMSO"], "range": ["#E9A22F","#16A47D","#111111","#808080"]},
      "legend": {"orient": "none", "legendX": 101, "legendY": 53, "title": null, "symbolType": "M-2,-1.25H2V1.25H-2Z", "symbolSize": 42, "labelFontSize": 10.5, "labelOffset": 9, "rowPadding": 5, "symbolStrokeWidth": 0}}
    }
   }
  ],
  "spacing": 0, "bounds": "flush",
  "resolve": {"scale": {"color": "independent", "shape": "independent", "xOffset": "independent"}}
 }
]
}
